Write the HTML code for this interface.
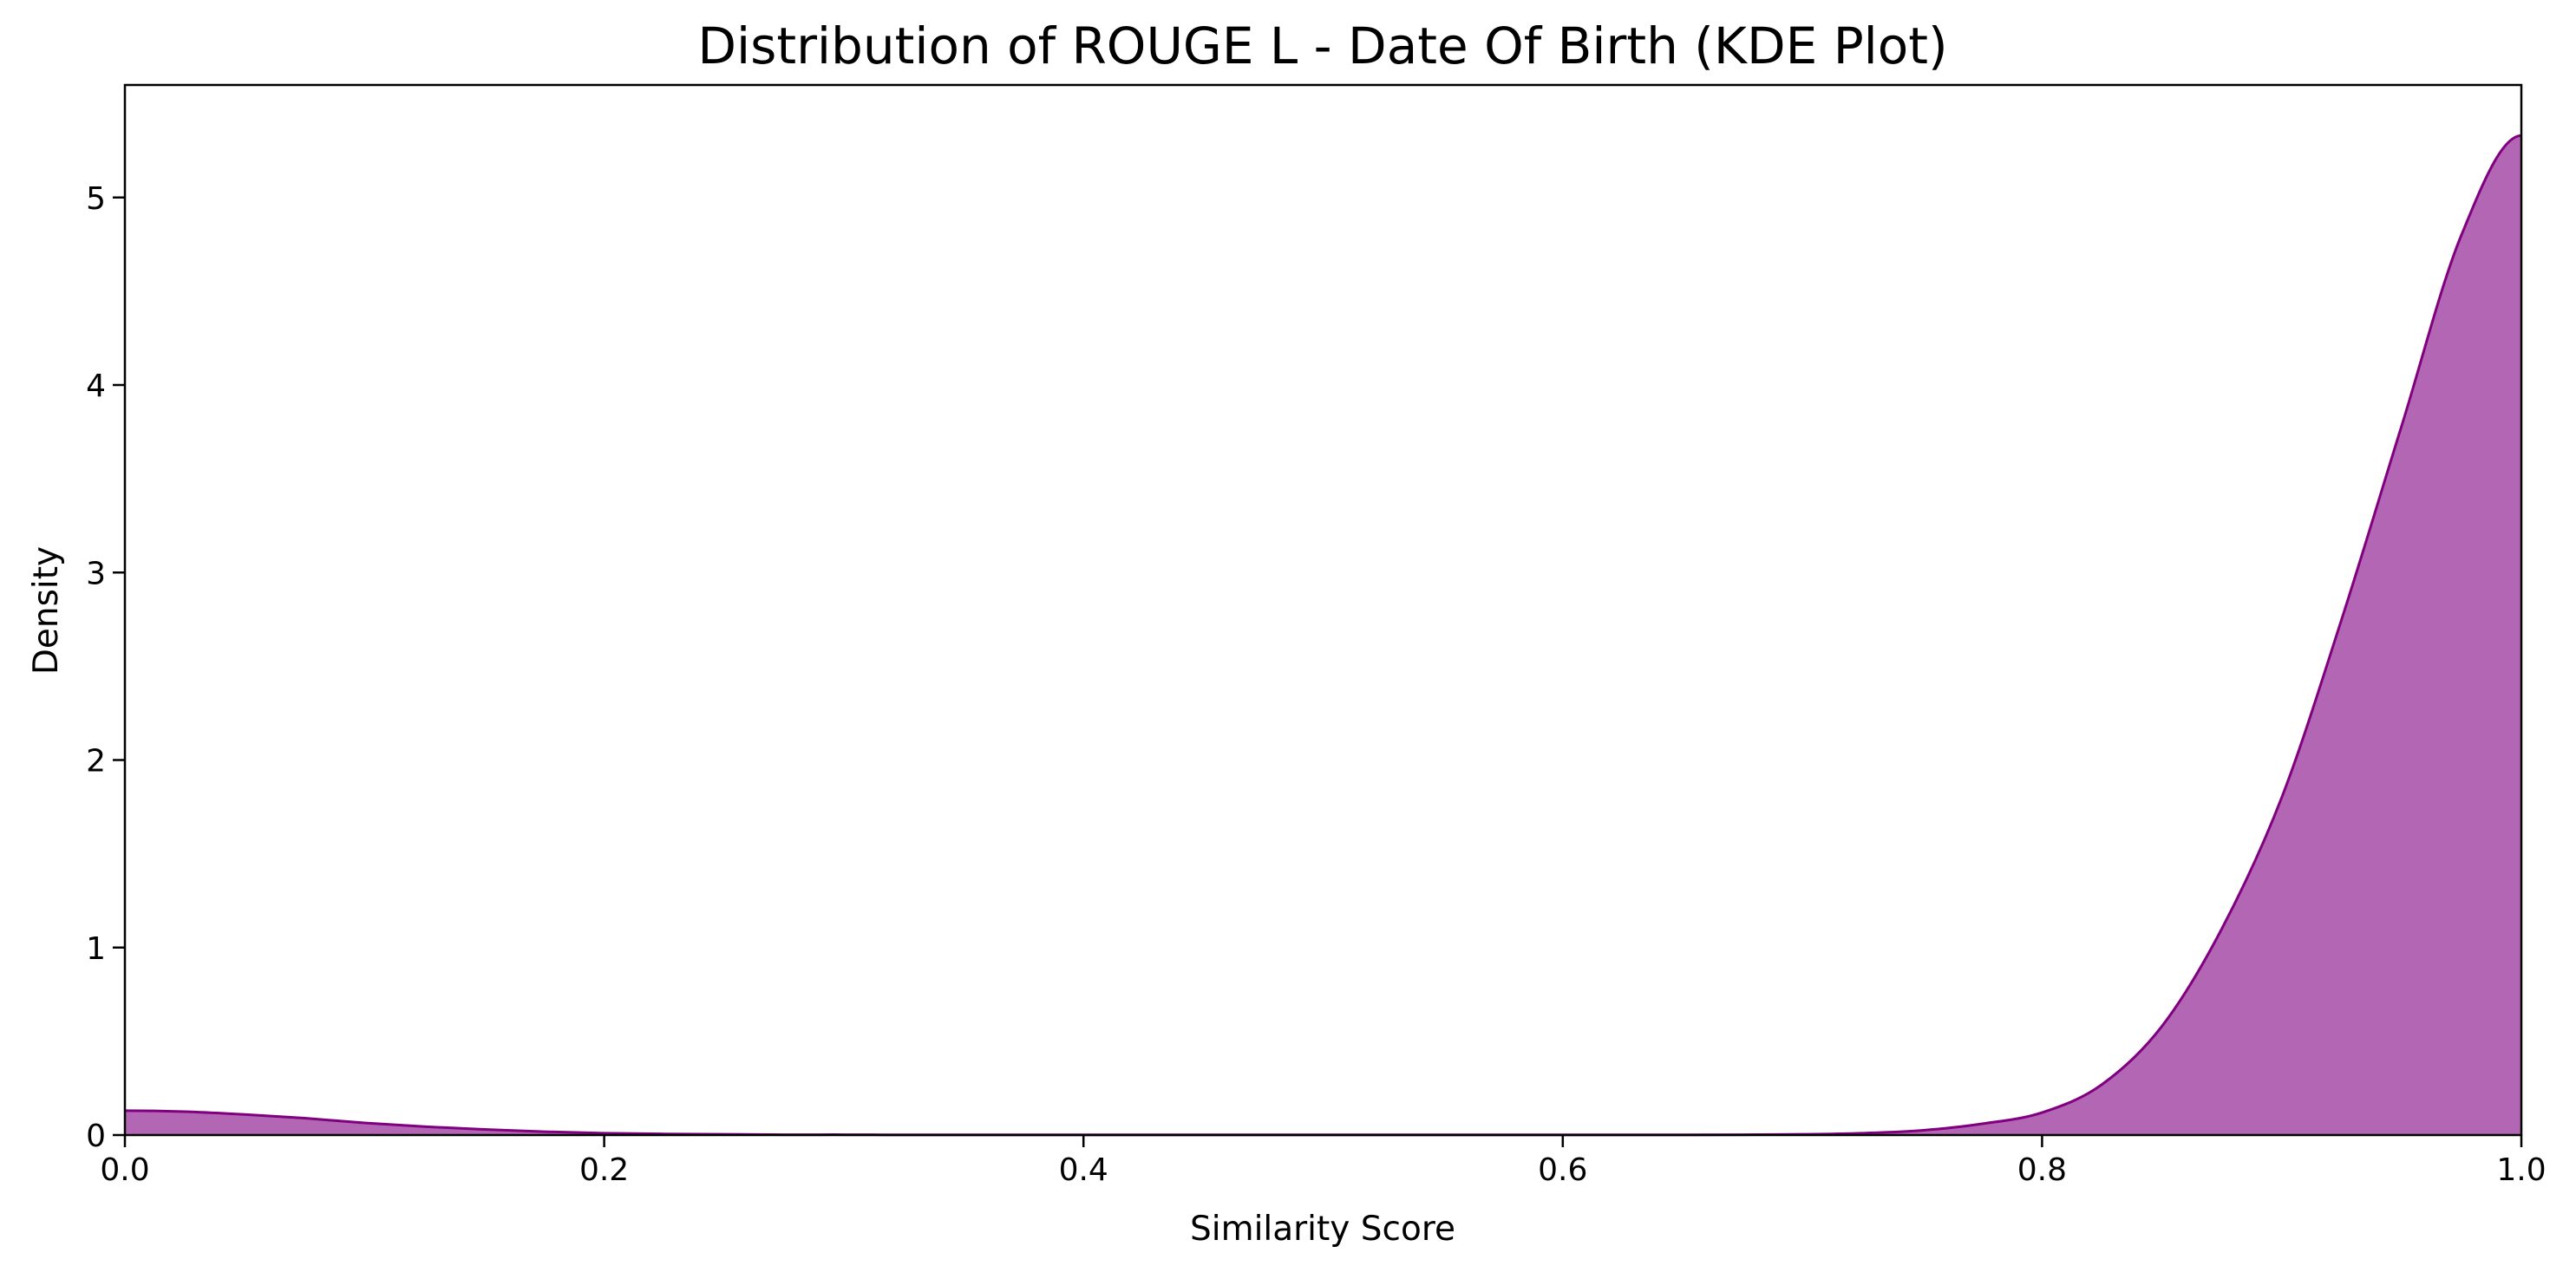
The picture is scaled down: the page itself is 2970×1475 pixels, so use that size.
<!DOCTYPE html>
<html><head><meta charset="utf-8"><style>
html,body{margin:0;padding:0;background:#fff}
svg text{font-family:"DejaVu Sans","Liberation Sans",sans-serif;fill:#000}
</style></head><body>
<svg id="chart" width="2970" height="1470" viewBox="0 0 2970 1470" xmlns="http://www.w3.org/2000/svg">
<rect width="2970" height="1470" fill="#fff"/>
<text x="1525" y="73" font-size="58" text-anchor="middle">Distribution of ROUGE L - Date Of Birth (KDE Plot)</text>
<g id="plot"></g>
<text x="1525" y="1430" font-size="39" text-anchor="middle">Similarity Score</text>
<text x="66" y="704" font-size="39" text-anchor="middle" transform="rotate(-90 66 704)">Density</text>
</svg>
<script>
const xs = [0,0.025,0.05,0.075,0.1,0.125,0.15,0.175,0.2,0.225,0.25,0.275,0.3,0.325,0.35,0.375,0.4,0.425,0.45,0.475,0.5,0.525,0.55,0.575,0.6,0.625,0.65,0.675,0.7,0.725,0.75,0.775,0.8,0.825,0.85,0.875,0.9,0.925,0.95,0.975,1.0];
const density = [0.13,0.125,0.11,0.09,0.065,0.045,0.03,0.018,0.01,0.006,0.004,0.002,0.002,0.001,0.001,0.001,0.001,0.001,0.001,0.001,0.001,0.001,0.001,0.001,0.001,0.001,0.001,0.002,0.004,0.01,0.025,0.06,0.12,0.27,0.58,1.1,1.8,2.75,3.78,4.8,5.33];
const xTicks = [0,0.2,0.4,0.6,0.8,1.0];
const xTickLabels = ["0.0","0.2","0.4","0.6","0.8","1.0"];
const yTicks = [0,1,2,3,4,5];
const yTickLabels = ["0","1","2","3","4","5"];

const L=144,R=2907,T=98,B=1309,YMAX=5.6;
const sx=v=>L+(v-0)/(1-0)*(R-L);
const sy=v=>B-v/YMAX*(B-T);
const NS='http://www.w3.org/2000/svg';
const g=document.getElementById('plot');
function mk(tag,attrs){const e=document.createElementNS(NS,tag);for(const k in attrs)e.setAttribute(k,attrs[k]);g.appendChild(e);return e;}

const pts=xs.map((x,i)=>[sx(x),sy(density[i])]);
const n=pts.length;
// mirrored phantom points for zero slope at both ends (reflection boundary)
const first=[2*pts[0][0]-pts[1][0],pts[1][1]];
const last=[2*pts[n-1][0]-pts[n-2][0],pts[n-2][1]];
const ext=[first].concat(pts,[last]);
let d='M'+pts[0][0]+','+pts[0][1];
for(let i=1;i<ext.length-2;i++){
  const p0=ext[i-1],p1=ext[i],p2=ext[i+1],p3=ext[i+2];
  const c1=[p1[0]+(p2[0]-p0[0])/6,p1[1]+(p2[1]-p0[1])/6];
  const c2=[p2[0]-(p3[0]-p1[0])/6,p2[1]-(p3[1]-p1[1])/6];
  d+=' C'+c1[0]+','+c1[1]+' '+c2[0]+','+c2[1]+' '+p2[0]+','+p2[1];
}
const area=mk('path',{d:d+' L'+sx(1)+','+sy(0)+' L'+sx(0)+','+sy(0)+' Z',fill:'#800080','fill-opacity':'0.6',stroke:'none'});


const line=mk('path',{d:d,fill:'none',stroke:'#800080','stroke-width':'3'});



const frame=mk('rect',{x:L,y:T,width:R-L,height:B-T,fill:'none',stroke:'#000','stroke-width':'2.5'});



xTicks.forEach((v,i)=>{
  const t=mk('line',{x1:sx(v),x2:sx(v),y1:B,y2:B+14,stroke:'#000','stroke-width':'2.5'});
  
  
  const tx=mk('text',{x:sx(v),y:B+52,'font-size':'36','text-anchor':'middle'});
  tx.textContent=xTickLabels[i];
  
  
});
yTicks.forEach((v,i)=>{
  const t=mk('line',{x1:L-14,x2:L,y1:sy(v),y2:sy(v),stroke:'#000','stroke-width':'2.5'});
  
  
  const tx=mk('text',{x:L-22,y:sy(v)+13,'font-size':'36','text-anchor':'end'});
  tx.textContent=yTickLabels[i];
  
  
});
</script>
</body></html>
